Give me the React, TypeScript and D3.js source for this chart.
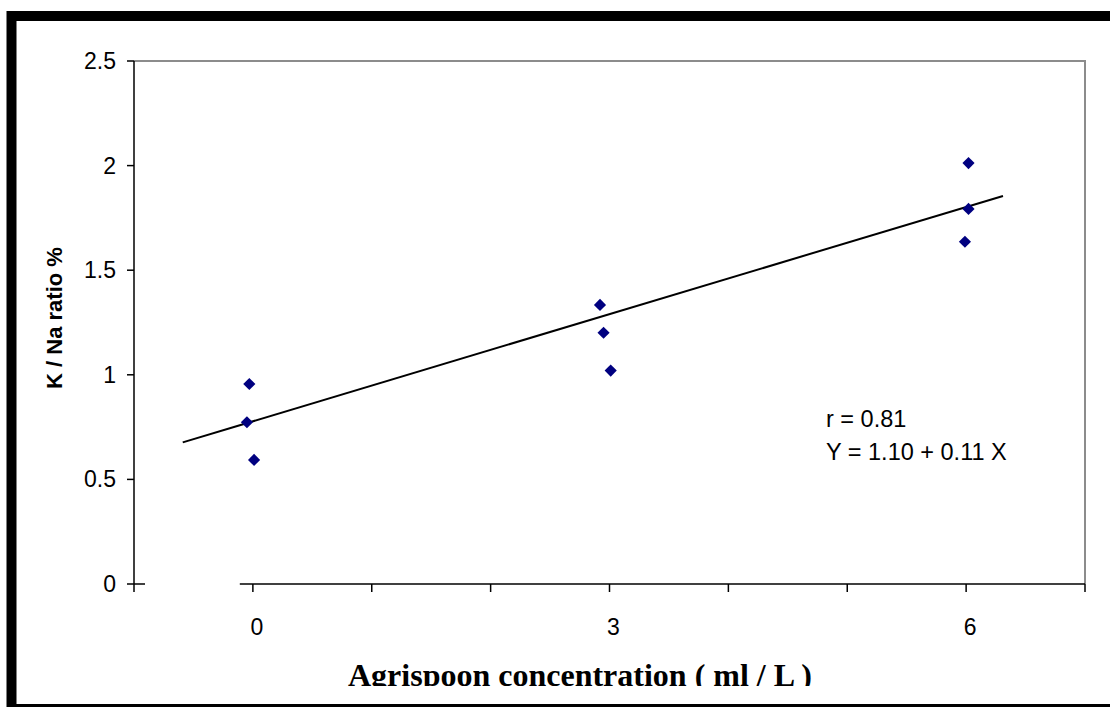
import React from "react";
import * as d3 from "d3";

// ---- data ----
const concX: number[] = [-0.03, -0.05, 0.01, 2.92, 2.95, 3.01, 6.02, 6.02, 5.99];
const ratioY: number[] = [0.956, 0.773, 0.593, 1.334, 1.201, 1.02, 2.012, 1.793, 1.636];
const trendX: number[] = [-0.59, 6.31];
const trendY: number[] = [0.677, 1.855];
const yTicks: number[] = [0, 0.5, 1, 1.5, 2, 2.5];
const yTickLabels: string[] = ["0", "0.5", "1", "1.5", "2", "2.5"];
const xTicks: number[] = [-1, 0, 1, 2, 3, 4, 5, 6, 7];
const xLabelValues: number[] = [0, 3, 6];
const xLabelTexts: string[] = ["0", "3", "6"];
const xAxisStart = -0.11;
const annotation: string[] = ["r = 0.81", "Y = 1.10 + 0.11 X"];
const xTitle = "Agrispoon concentration ( ml / L )";
const yTitle = "K / Na ratio %";

const W = 1110;
const H = 707;
const plot = { left: 134, right: 1085, top: 61, bottom: 584 };

export default function App() {
  const x = d3.scaleLinear().domain([-1, 7]).range([plot.left, plot.right]);
  const y = d3.scaleLinear().domain([0, 2.5]).range([plot.bottom, plot.top]);
  const diamond = d3.symbol().type(d3.symbolSquare).size(74)();
  const trend = d3
    .line<number>()
    .x((d) => x(d))
    .y((_, i) => y(trendY[i]));
  const sans = "Arial, 'Liberation Sans', sans-serif";
  return (
    <div style={{ position: "absolute", left: 0, top: 0 }}>
      <svg width={W} height={H} style={{ display: "block", background: "#fff" }}>
        <defs>
          <clipPath id="chartClip">
            <rect x={0} y={0} width={W} height={686} />
          </clipPath>
        </defs>
        {/* outer frame */}
        <rect x={11.5} y={16} width={1110} height={693} fill="none" stroke="#000" strokeWidth={10} />
        {/* plot area border (gray top/right) */}
        <path
          d={`M${plot.left},${plot.top}H${plot.right}V${plot.bottom}`}
          fill="none"
          stroke="#8c8c8c"
          strokeWidth={2}
        />
        {/* y axis */}
        <line x1={plot.left} x2={plot.left} y1={plot.top} y2={plot.bottom + 8} stroke="#000" strokeWidth={1.5} />
        {yTicks.map((t, i) => (
          <g key={"yt" + i}>
            <line
              x1={plot.left - 7}
              x2={t === 0 ? plot.left + 11 : plot.left}
              y1={y(t)}
              y2={y(t)}
              stroke="#000"
              strokeWidth={1.5}
            />
            <text
              x={plot.left - 18}
              y={y(t)}
              textAnchor="end"
              dominantBaseline="central"
              fontFamily={sans}
              fontSize={23}
              fill="#000"
            >
              {yTickLabels[i]}
            </text>
          </g>
        ))}
        {/* x axis */}
        <line x1={x(xAxisStart)} x2={plot.right} y1={plot.bottom} y2={plot.bottom} stroke="#000" strokeWidth={1.5} />
        {xTicks
          .filter((t) => t > xAxisStart)
          .map((t, i) => (
            <line key={"xt" + i} x1={x(t)} x2={x(t)} y1={plot.bottom} y2={plot.bottom + 8} stroke="#000" strokeWidth={1.5} />
          ))}
        {xLabelValues.map((v, i) => (
          <text
            key={"xl" + i}
            x={x(v) + 4}
            y={627}
            textAnchor="middle"
            dominantBaseline="central"
            fontFamily={sans}
            fontSize={23}
            fill="#000"
          >
            {xLabelTexts[i]}
          </text>
        ))}
        {/* trend line */}
        <path d={trend(trendX) || ""} fill="none" stroke="#000" strokeWidth={2} />
        {/* points */}
        {concX.map((cx, i) => (
          <path
            key={"p" + i}
            d={diamond || ""}
            transform={`translate(${x(cx)},${y(ratioY[i])}) rotate(45)`}
            fill="#000080"
          />
        ))}
        {/* annotation */}
        {annotation.map((s, i) => (
          <text key={"a" + i} x={826} y={427 + i * 33} fontFamily={sans} fontSize={23.5} fill="#000">
            {s}
          </text>
        ))}
        {/* axis titles */}
        <text
          transform={`translate(54,318) rotate(-90)`}
          textAnchor="middle"
          dominantBaseline="central"
          fontFamily={sans}
          fontWeight="bold"
          fontSize={22}
          fill="#000"
        >
          {yTitle}
        </text>
        <g clipPath="url(#chartClip)">
          <text
            x={580}
            y={686}
            textAnchor="middle"
            fontFamily="'Times New Roman', 'Liberation Serif', serif"
            fontWeight="bold"
            fontSize={32}
            fill="#000"
          >
            {xTitle}
          </text>
        </g>
      </svg>
    </div>
  );
}
